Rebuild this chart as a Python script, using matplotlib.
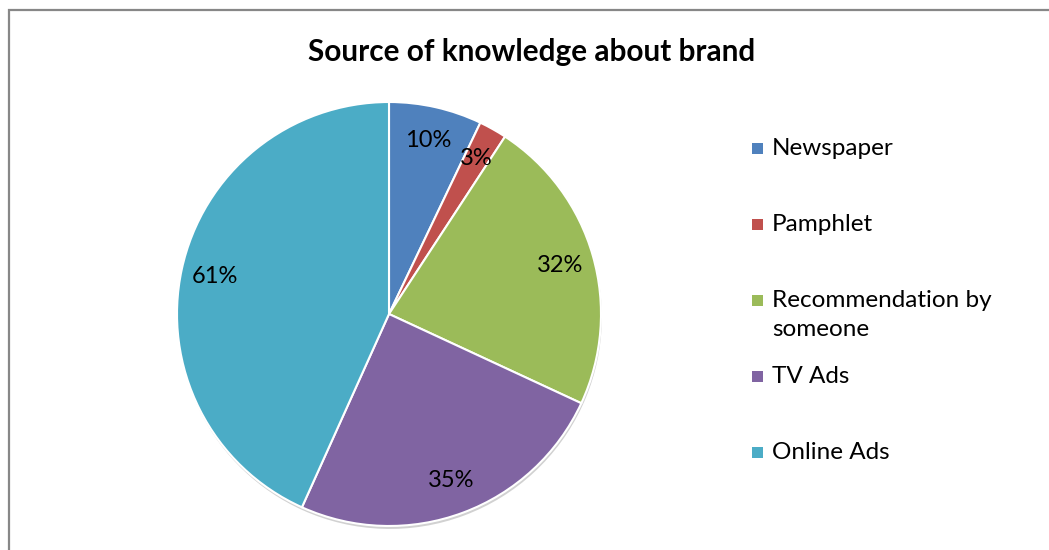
import matplotlib
matplotlib.use("Agg")
import matplotlib.pyplot as plt
from matplotlib.patches import Rectangle

plt.rcParams['font.family'] = ['Lato', 'DejaVu Sans']

# Survey answers (the printed percentages are the raw answer shares)
sources = ["Newspaper", "Pamphlet", "Recommendation by\nsomeone", "TV Ads", "Online Ads"]
shares = [10, 3, 32, 35, 61]
colors = ["#4F81BD", "#C0504D", "#9BBB59", "#8064A2", "#4BACC6"]

total = sum(shares)

fig = plt.figure(figsize=(10.49, 5.5), dpi=100)

# chart frame (only top and left edges fall inside the image)
fig.patches.append(Rectangle((8.5 / 1049, -0.1), 1.2, (550 - 9.5) / 550 + 0.1,
                             transform=fig.transFigure, fill=False,
                             edgecolor="#878787", linewidth=1.6))

ax = fig.add_axes([177 / 1049, 24 / 550, 424 / 1049, 424 / 550])
wedges, texts, autotexts = ax.pie(
    shares, colors=colors, startangle=90, counterclock=False,
    autopct=lambda p: f"{p * total / 100:.0f}%", pctdistance=0.84,
    wedgeprops=dict(edgecolor="white", linewidth=1.5),
    textprops=dict(fontsize=17, color="black"),
    shadow=dict(ox=0.003, oy=-0.01, facecolor="#9a9a9a", edgecolor="none", alpha=0.45),
)
ax.set_xlim(-1, 1)
ax.set_ylim(-1, 1)
ax.set_aspect("equal")

fig.text(532 / 1049, 1 - 52 / 550, "Source of knowledge about brand",
         ha="center", va="center", fontsize=21.4, fontweight="bold")

# legend: one row per slice, wrapped labels continue downwards
row_top = 148
row_step = 76
for i, (name, c) in enumerate(zip(sources, colors)):
    y = 1 - (row_top + i * row_step) / 550
    fig.patches.append(Rectangle((752 / 1049, y - 5.5 / 550), 11 / 1049, 11 / 550,
                                 transform=fig.transFigure, facecolor=c,
                                 edgecolor="none"))
    fig.text(772 / 1049, y + 10 / 550, name, ha="left", va="top",
             fontsize=17.5, linespacing=1.5)

fig.savefig("out.png", dpi=100)
